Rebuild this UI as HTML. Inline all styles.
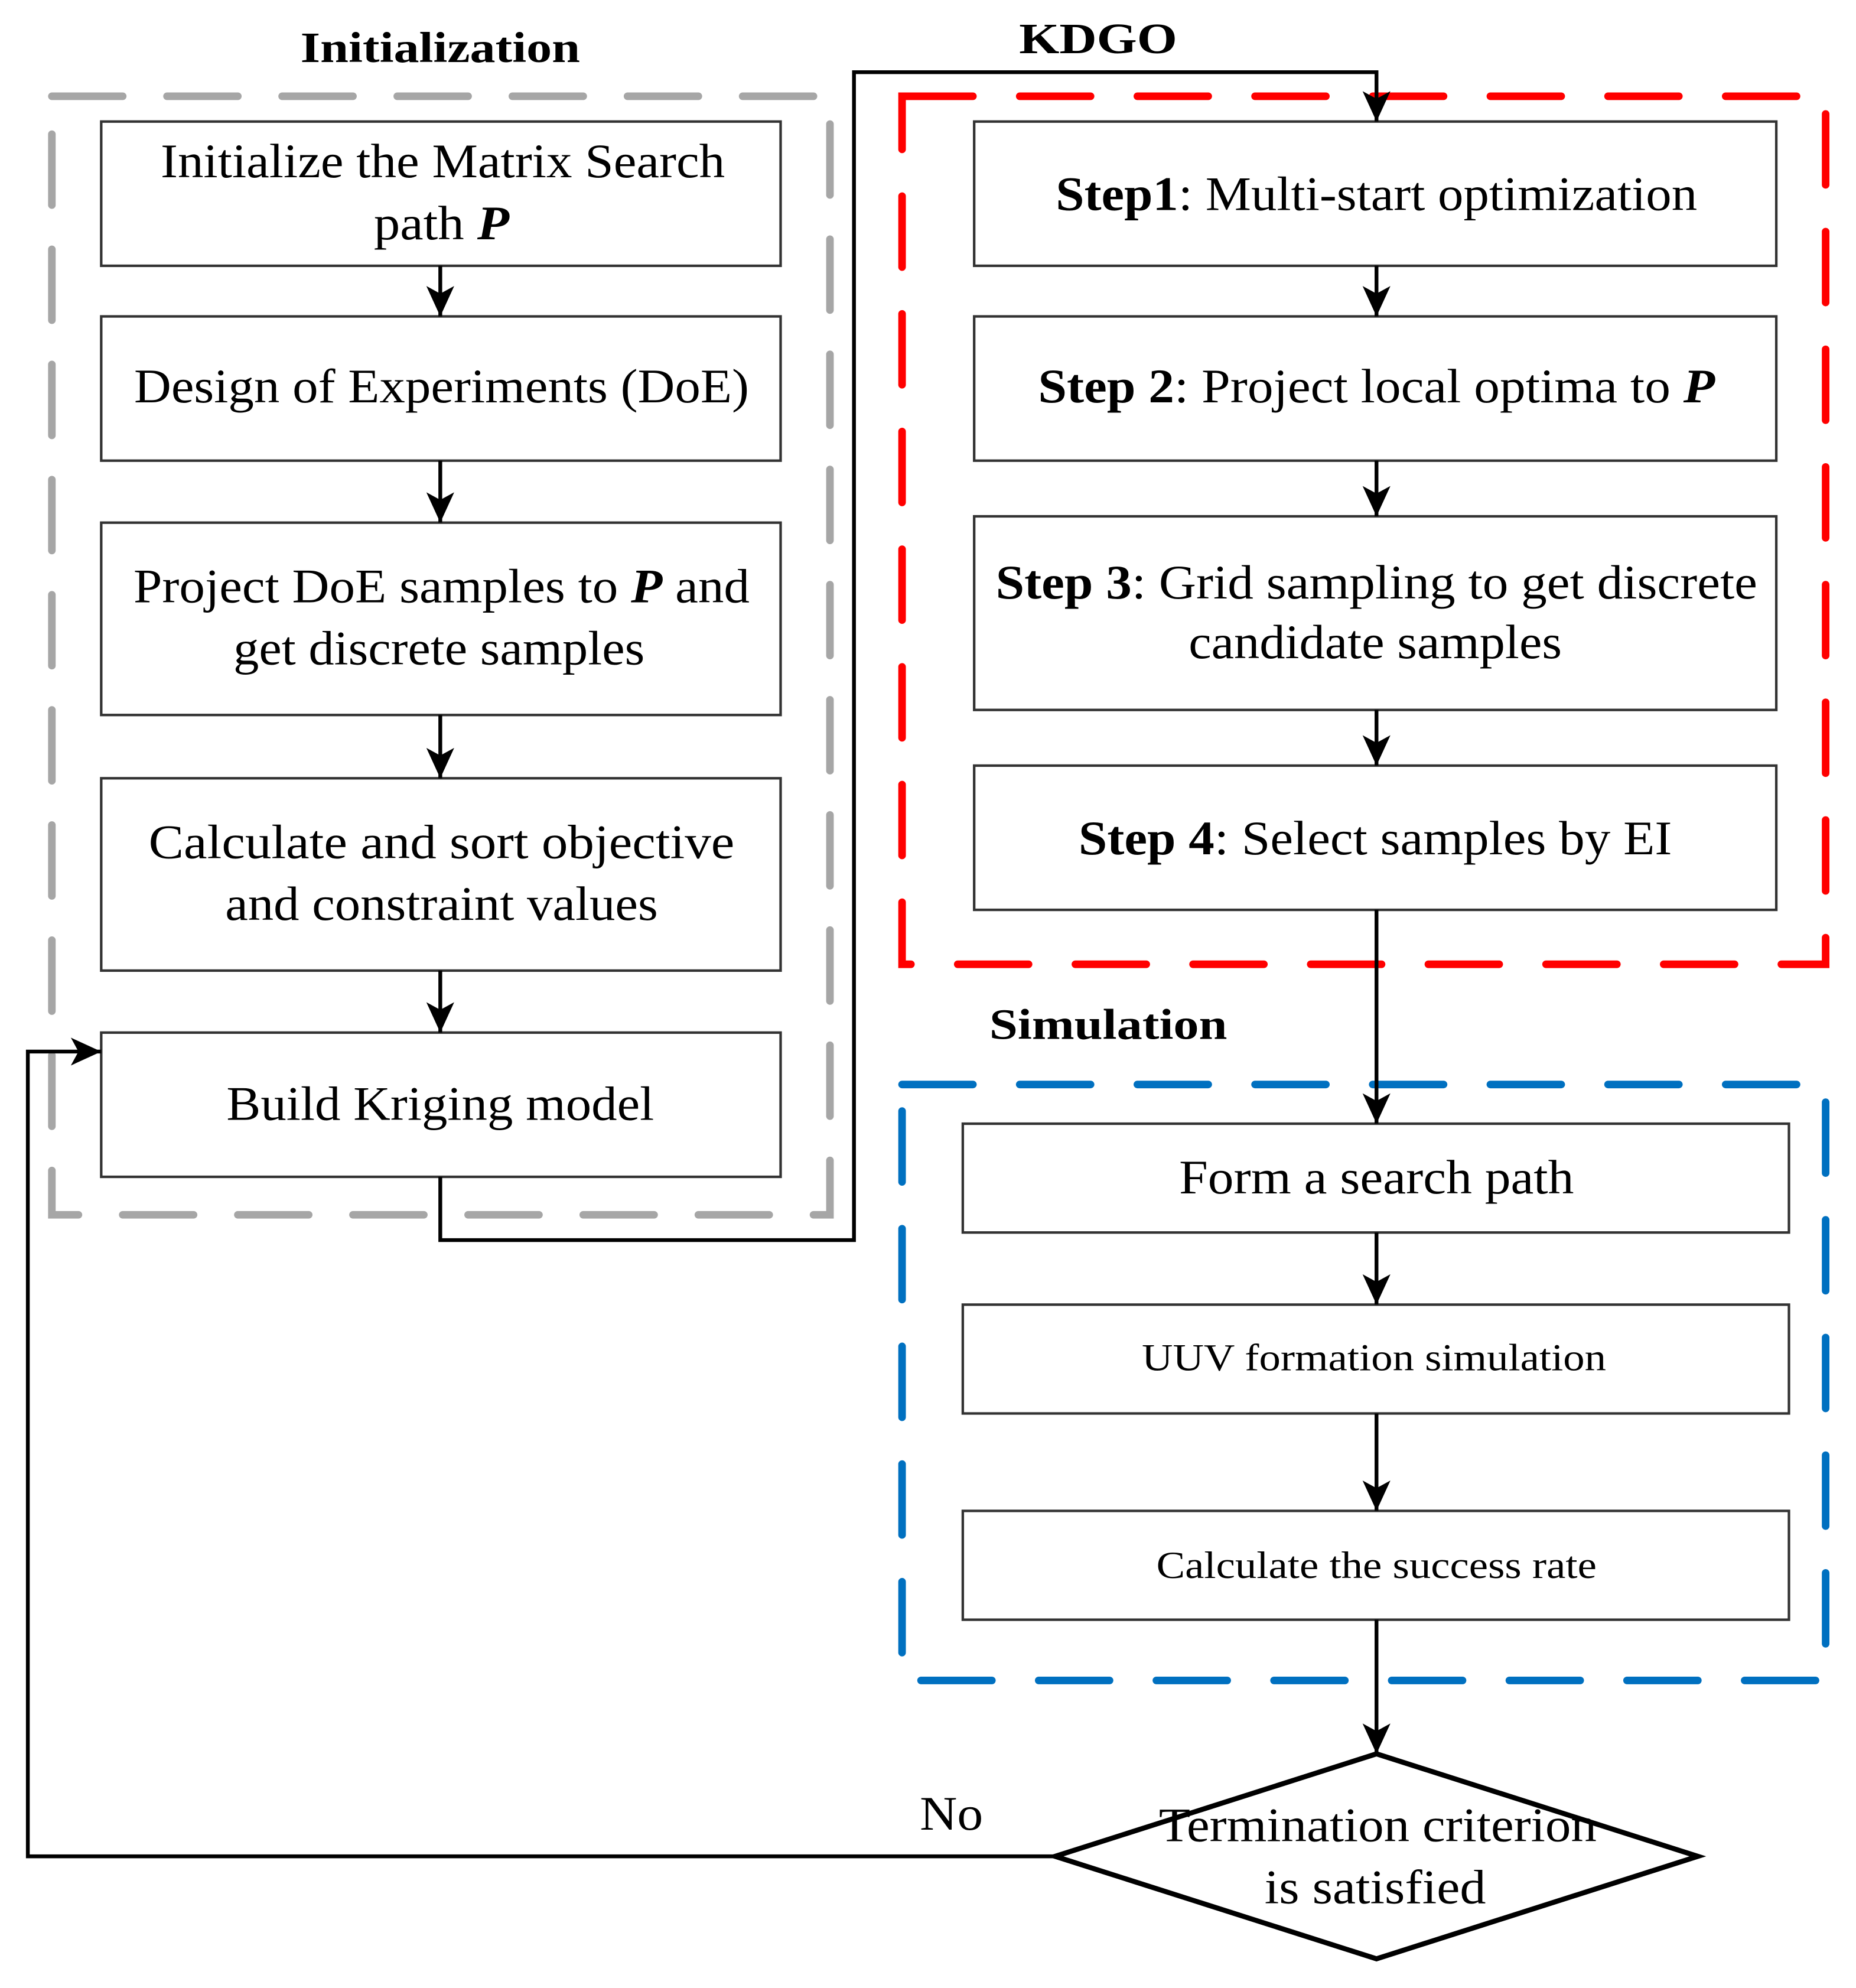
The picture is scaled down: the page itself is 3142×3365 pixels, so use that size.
<!DOCTYPE html>
<html><head><meta charset="utf-8"><style>html,body{margin:0;padding:0;background:#fff}svg{display:block}</style></head>
<body>
<svg xmlns="http://www.w3.org/2000/svg" width="3142" height="3365" viewBox="0 0 1467 1571" font-family="'Liberation Serif', serif" fill="#000">
<defs>
<marker id="ah" markerWidth="10" markerHeight="14" refX="10" refY="7" orient="auto" markerUnits="userSpaceOnUse">
<path d="M0,0 L10,7 L0,14 L3,7 Z" fill="#000"/>
</marker>
<marker id="av" viewBox="0 0 24 24" markerWidth="24" markerHeight="24" refX="24" refY="12" orient="auto" markerUnits="userSpaceOnUse">
<path d="M0,1 L24,12 L0,23 L6,12 Z" fill="#000"/>
</marker>
</defs>
<rect width="1467" height="1571" fill="#fff"/>
<!-- group frames -->
<rect x="41" y="76" width="615" height="884" fill="none" stroke="#a6a6a6" stroke-width="6" stroke-dasharray="56 35" stroke-linecap="round"/>
<rect x="713" y="76" width="730" height="686" fill="none" stroke="#ff0000" stroke-width="6" stroke-dasharray="56 37" stroke-linecap="round"/>
<rect x="713" y="857" width="730" height="471" fill="none" stroke="#0070c0" stroke-width="6" stroke-dasharray="56 37" stroke-linecap="round"/>
<!-- titles -->
<text x="348" y="49" font-size="34" font-weight="bold" text-anchor="middle" textLength="221" lengthAdjust="spacingAndGlyphs">Initialization</text>
<text x="868" y="42" font-size="34" font-weight="bold" text-anchor="middle" textLength="125" lengthAdjust="spacingAndGlyphs">KDGO</text>
<text x="876" y="821" font-size="34" font-weight="bold" text-anchor="middle" textLength="188" lengthAdjust="spacingAndGlyphs">Simulation</text>
<g fill="#fff" stroke="#333" stroke-width="2">
<rect x="80" y="96" width="537" height="114"/>
<rect x="80" y="250" width="537" height="114"/>
<rect x="80" y="413" width="537" height="152"/>
<rect x="80" y="615" width="537" height="152"/>
<rect x="80" y="816" width="537" height="114"/>
<rect x="770" y="96" width="634" height="114"/>
<rect x="770" y="250" width="634" height="114"/>
<rect x="770" y="408" width="634" height="153"/>
<rect x="770" y="605" width="634" height="114"/>
<rect x="761" y="888" width="653" height="86"/>
<rect x="761" y="1031" width="653" height="86"/>
<rect x="761" y="1194" width="653" height="86"/>
</g>
<polygon points="1088,1386 1342,1467 1088,1548 834,1467" fill="#fff" stroke="#000" stroke-width="4"/>
<!-- arrows -->
<g stroke="#000" stroke-width="3" fill="none" marker-end="url(#av)">
<line x1="348" y1="210" x2="348" y2="250"/>
<line x1="348" y1="364" x2="348" y2="413"/>
<line x1="348" y1="565" x2="348" y2="615"/>
<line x1="348" y1="767" x2="348" y2="816"/>
<polyline points="348,930 348,980 675,980 675,57 1088,57 1088,96"/>
<line x1="1088" y1="210" x2="1088" y2="250"/>
<line x1="1088" y1="364" x2="1088" y2="408"/>
<line x1="1088" y1="561" x2="1088" y2="605"/>
<line x1="1088" y1="719" x2="1088" y2="888"/>
<line x1="1088" y1="974" x2="1088" y2="1031"/>
<line x1="1088" y1="1117" x2="1088" y2="1194"/>
<line x1="1088" y1="1280" x2="1088" y2="1386"/>
<polyline points="834,1467 22,1467 22,831 80,831"/>
</g>
<!-- texts -->
<g font-size="38" text-anchor="middle" lengthAdjust="spacingAndGlyphs">
<text x="350" y="140" textLength="446" lengthAdjust="spacingAndGlyphs">Initialize the Matrix Search</text>
<text x="349" y="189" textLength="107" lengthAdjust="spacingAndGlyphs">path <tspan font-weight="bold" font-style="italic">P</tspan></text>
<text x="349" y="318" textLength="486" lengthAdjust="spacingAndGlyphs">Design of Experiments (DoE)</text>
<text x="349" y="476" textLength="487" lengthAdjust="spacingAndGlyphs">Project DoE samples to <tspan font-weight="bold" font-style="italic">P</tspan> and</text>
<text x="347" y="525" textLength="325" lengthAdjust="spacingAndGlyphs">get discrete samples</text>
<text x="349" y="678" textLength="463" lengthAdjust="spacingAndGlyphs">Calculate and sort  objective</text>
<text x="349" y="727" textLength="342" lengthAdjust="spacingAndGlyphs">and constraint values</text>
<text x="348" y="885" textLength="338" lengthAdjust="spacingAndGlyphs">Build Kriging model</text>
<text x="1088" y="166" textLength="507" lengthAdjust="spacingAndGlyphs"><tspan font-weight="bold">Step1</tspan>: Multi-start optimization</text>
<text x="1088" y="318" textLength="535" lengthAdjust="spacingAndGlyphs"><tspan font-weight="bold">Step 2</tspan>: Project local optima to <tspan font-weight="bold" font-style="italic">P</tspan></text>
<text x="1088" y="473" textLength="602" lengthAdjust="spacingAndGlyphs"><tspan font-weight="bold">Step 3</tspan>: Grid sampling to get discrete</text>
<text x="1087" y="520" textLength="295" lengthAdjust="spacingAndGlyphs">candidate samples</text>
<text x="1087" y="675" textLength="469" lengthAdjust="spacingAndGlyphs"><tspan font-weight="bold">Step 4</tspan>: Select samples by EI</text>
<text x="1088" y="943" textLength="312" lengthAdjust="spacingAndGlyphs">Form a search path</text>
<text x="1086" y="1083" font-size="30" textLength="367" lengthAdjust="spacingAndGlyphs">UUV formation simulation</text>
<text x="1088" y="1247" font-size="30" textLength="348" lengthAdjust="spacingAndGlyphs">Calculate the success rate</text>
<text x="1089" y="1455" textLength="346" lengthAdjust="spacingAndGlyphs">Termination criterion</text>
<text x="1087" y="1504" textLength="175" lengthAdjust="spacingAndGlyphs">is satisfied</text>
<text x="752" y="1446" textLength="50" lengthAdjust="spacingAndGlyphs">No</text>
</g>
</svg>
</body></html>
